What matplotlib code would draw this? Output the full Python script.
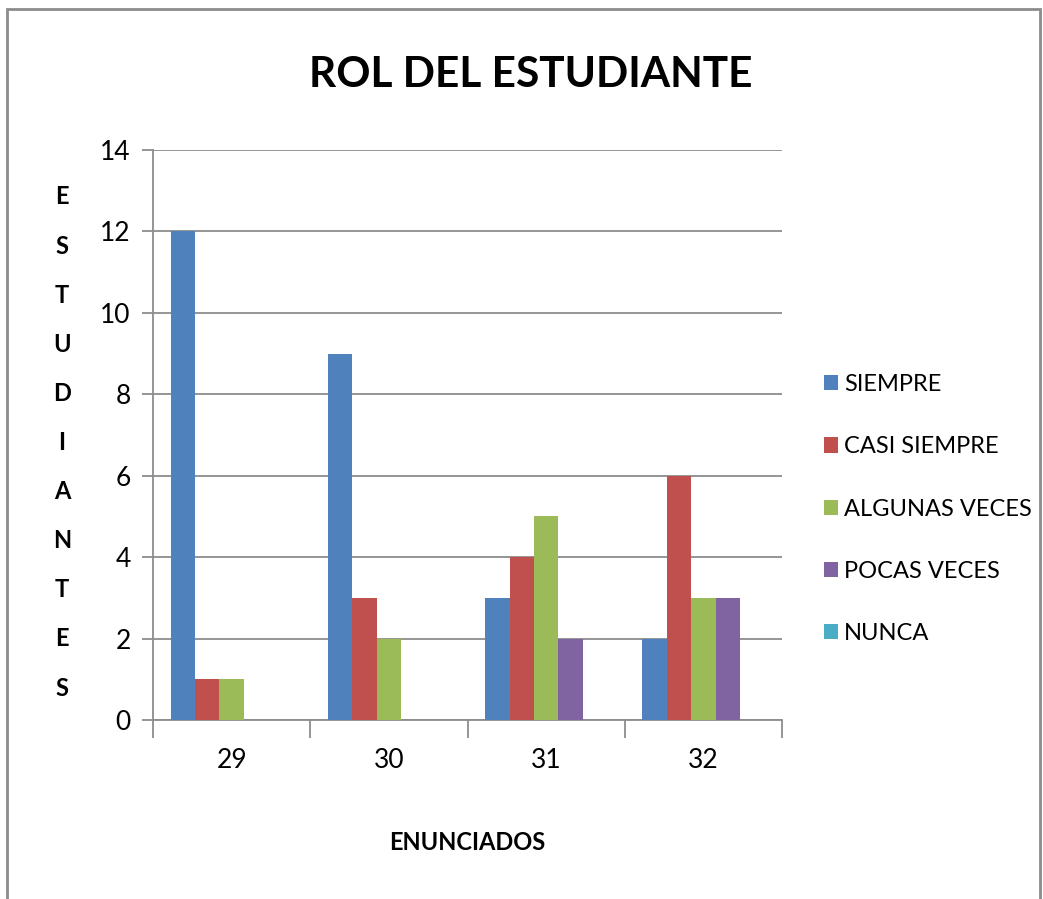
import numpy as np
import matplotlib
matplotlib.use("Agg")
import matplotlib.pyplot as plt
from matplotlib.patches import Rectangle

plt.rcParams['font.family'] = ['Lato', 'DejaVu Sans']

enunciados = ['29', '30', '31', '32']
series = ['SIEMPRE', 'CASI SIEMPRE', 'ALGUNAS VECES', 'POCAS VECES', 'NUNCA']
siempre = [12, 9, 3, 2]
casi_siempre = [1, 3, 4, 6]
algunas_veces = [1, 2, 5, 3]
pocas_veces = [0, 0, 2, 3]
nunca = [0, 0, 0, 0]
colors = ['#4F81BD', '#C0504D', '#9BBB59', '#8064A2', '#4BACC6']

fig = plt.figure(figsize=(10.43, 8.99), dpi=100)
# chart border
fig.patches.append(Rectangle((7 / 1043, -0.01), 1033 / 1043, 1 - 9 / 899 + 0.01,
                             transform=fig.transFigure, fill=False,
                             edgecolor='#8c8c8c', linewidth=2))

ax = fig.add_axes([153 / 1043, 179 / 899, 629 / 1043, 570 / 899])
x = np.arange(len(enunciados))
w = 0.155
values = [siempre, casi_siempre, algunas_veces, pocas_veces, nunca]
for i, (name, vals) in enumerate(zip(series, values)):
    ax.bar(x + (i - 2) * w, vals, w, color=colors[i], label=name, zorder=3)

ax.set_xlim(-0.5, 3.5)
ax.set_ylim(0, 14)
ax.set_yticks(range(0, 15, 2))
ax.yaxis.grid(True, color='#8c8c8c', linewidth=1.3, zorder=0)
ax.set_xticks(np.arange(-0.5, 4, 1))
ax.set_xticklabels([])
ax.set_xticks(x, minor=True)
ax.set_xticklabels(enunciados, minor=True)
ax.tick_params(axis='x', which='major', length=13, color='#8c8c8c', width=1.3)
ax.tick_params(axis='x', which='minor', length=0, pad=20, labelsize=19)
ax.tick_params(axis='y', length=8, color='#8c8c8c', width=1.3, labelsize=19, pad=8)
for s in ['top', 'right']:
    ax.spines[s].set_visible(False)
for s in ['left', 'bottom']:
    ax.spines[s].set_color('#8c8c8c')
    ax.spines[s].set_linewidth(1.3)

fig.text(531 / 1043, 1 - 75 / 899, 'ROL DEL ESTUDIANTE', ha='center', va='center',
         fontsize=30.5, fontweight='bold')
fig.text(467 / 1043, 1 - 842 / 899, 'ENUNCIADOS', ha='center', va='center',
         fontsize=17, fontweight='bold')

letters = 'ESTUDIANTES'
for k, ch in enumerate(letters):
    fig.text(62 / 1043, 1 - (197 + k * 49.1) / 899, ch, ha='center', va='center',
             fontsize=17, fontweight='bold')

handles, labels = ax.get_legend_handles_labels()
fig.legend(handles, labels, loc='center left', bbox_to_anchor=(812 / 1043, 1 - 509 / 899),
           frameon=False, fontsize=17, handlelength=0.62, handleheight=0.62,
           handletextpad=0.25, labelspacing=1.75, borderpad=0)

fig.savefig('out.png', dpi=100)
